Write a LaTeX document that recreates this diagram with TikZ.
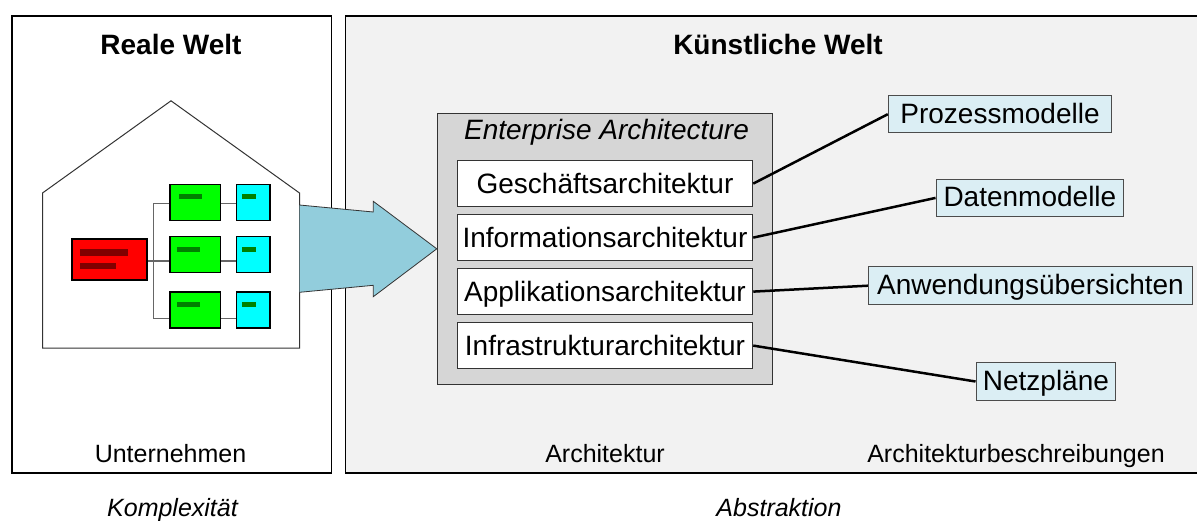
\documentclass[tikz,border=0pt]{standalone}
\usepackage{fontspec}
\setmainfont{Liberation Sans}
\usetikzlibrary{positioning}
\tikzset{
% Panels and boxes, sized in the picture's own units
panel node/.style={draw=black,line width=1.5,inner sep=0,minimum width=#1},
panel node/.default=319.5,
layer node/.style={draw=black!80,fill=white,line width=1,inner sep=0,minimum width=295.5,minimum height=45.5,text height=23pt,text depth=4pt,font=\fontsize{28}{32}\selectfont},
model node/.style={draw=black!70,fill=modelblue,line width=1,inner sep=0,minimum height=37.5,text height=22pt,text depth=4pt,font=\fontsize{28}{32}\selectfont},
unit node/.style={draw=black,line width=1.5,inner sep=0},
green node/.style={unit node,fill=pure green,minimum width=50.5,minimum height=36},
cyan node/.style={unit node,fill=pure cyan,minimum width=33.5,minimum height=36},
bar node/.style={inner sep=0,minimum height=5.5,fill=#1},
link/.style={draw=black!60,line width=1.5},
model link/.style={draw=black,line width=2.5},
caption/.style={anchor=base,font=\fontsize{25}{29}\selectfont},
slanted caption/.style={anchor=base,font=\fontsize{25}{29}\selectfont\itshape},
title/.style={anchor=base,font=\fontsize{28}{32}\selectfont\bfseries}
}
\definecolor{modelblue}{HTML}{DBEEF4}
\definecolor{arrowblue}{HTML}{92CDDC}
\definecolor{pure green}{HTML}{00FF00}
\definecolor{pure cyan}{HTML}{00FFFF}
\definecolor{bar green}{HTML}{008000}
\definecolor{bar red}{HTML}{800000}
\begin{document}
\begin{tikzpicture}[x=1pt,y=-1pt]
\useasboundingbox (0,0) rectangle (1197,520);
% The two worlds
\node(real)[panel node,minimum height=457,fill=white] at (171.5,244.5){};
\node(artificial)[panel node=860,minimum height=457,fill=black!5] at (775.5,244.5){};
\node(realtitle)[title] at (171,54.5){Reale Welt};
\node(artificialtitle)[title] at (778,54.5){Künstliche Welt};
% The house
\node(house)[draw=none,inner sep=0,minimum width=256.6,minimum height=247] at (171,224.5){};
\draw[draw=black!80,line width=1,fill=white] (house.south west) -- (house.west|-0,193) -- (house.north) -- (house.east|-0,193) -- (house.south east) -- cycle;
% The organisation chart
\node(red)[unit node,fill=red,minimum width=75,minimum height=41] at (109.5,259.3){};
\node(green1)[green node] at (195.3,202.5){};
\node(green2)[green node] at (195.3,254.5){};
\node(green3)[green node] at (195.3,310){};
\node(cyan1)[cyan node] at (253.3,202.5){};
\node(cyan2)[cyan node] at (253.3,254.5){};
\node(cyan3)[cyan node] at (253.3,310){};
\coordinate(trunk) at (153.7,261);
\draw[link] (red.east|-trunk) -- (green2.west|-trunk);
\draw[link] (green1.west|-0,203.7) -| (trunk) |- (green3.west|-0,318.7);
\draw[link] (green1.east|-0,203.7) -- (cyan1.west|-0,203.7);
\draw[link] (green2.east|-trunk) -- (cyan2.west|-trunk);
\draw[link] (green3.east|-0,318.7) -- (cyan3.west|-0,318.7);
% The bars inside the units
\node(redbar1)[bar node=bar red,minimum width=47.5,minimum height=6.5] at (104.2,252.3){};
\node(redbar2)[bar node=bar red,minimum width=35.5,minimum height=6.5] at (98.2,265.8){};
\node(greenbar1)[bar node=bar green,minimum width=22.5] at (190.3,196.5){};
\node(greenbar2)[bar node=bar green,minimum width=22.5] at (188.3,249.5){};
\node(greenbar3)[bar node=bar green,minimum width=22.5] at (188.3,304.5){};
\node(cyanbar1)[bar node=bar green,minimum width=13.5] at (249.2,196.5){};
\node(cyanbar2)[bar node=bar green,minimum width=13.5] at (249.2,249.5){};
\node(cyanbar3)[bar node=bar green,minimum width=13.5] at (248.8,304.5){};
% The layers
\node(ea)[draw=black!80,fill=black!16,line width=1,inner sep=0,minimum width=335.4,minimum height=271] at (605,248.8){};
\node(eatitle)[anchor=base,font=\fontsize{28}{32}\selectfont\itshape] at (606.5,139.3){Enterprise Architecture};
\node(business)[layer node] at (605,183.6){Geschäftsarchitektur};
\node(information)[layer node,below=7.5pt of business]{Informationsarchitektur};
\node(application)[layer node,below=7.5pt of information]{Applikationsarchitektur};
\node(infrastructure)[layer node,below=7.5pt of application]{Infrastrukturarchitektur};
% The big arrow
\draw[draw=black!80,fill=arrowblue,line width=.8] (house.east|-0,205) -- (373.3,212) -- (373.3,201.3) -- (ea.west) -- (373.3,296.7) -- (373.3,285.3) -- (house.east|-0,292.3);
% The descriptions
\node(process)[model node,minimum width=223.4] at (1000,114.2){Prozessmodelle};
\node(data)[model node,minimum width=187.7] at (1029.9,197.9){Datenmodelle};
\node(overview)[model node,minimum width=324.4] at (1030.5,285.7){Anwendungsübersichten};
\node(network)[model node,minimum width=139.7] at (1045.9,381.5){Netzpläne};
\draw[model link] (business.east) -- (process.west);
\draw[model link] (information.east) -- (data.west);
\draw[model link] (application.east) -- (overview.west);
\draw[model link] (infrastructure.east) -- (network.west);
% Captions
\node(company)[caption] at (170.5,462){Unternehmen};
\node(architecture)[caption] at (605,462){Architektur};
\node(descriptions)[caption] at (1016,462){Architekturbeschreibungen};
\node(complexity)[slanted caption] at (172.5,516.7){Komplexität};
\node(abstraction)[slanted caption] at (779,516.7){Abstraktion};
\end{tikzpicture}
\end{document}
